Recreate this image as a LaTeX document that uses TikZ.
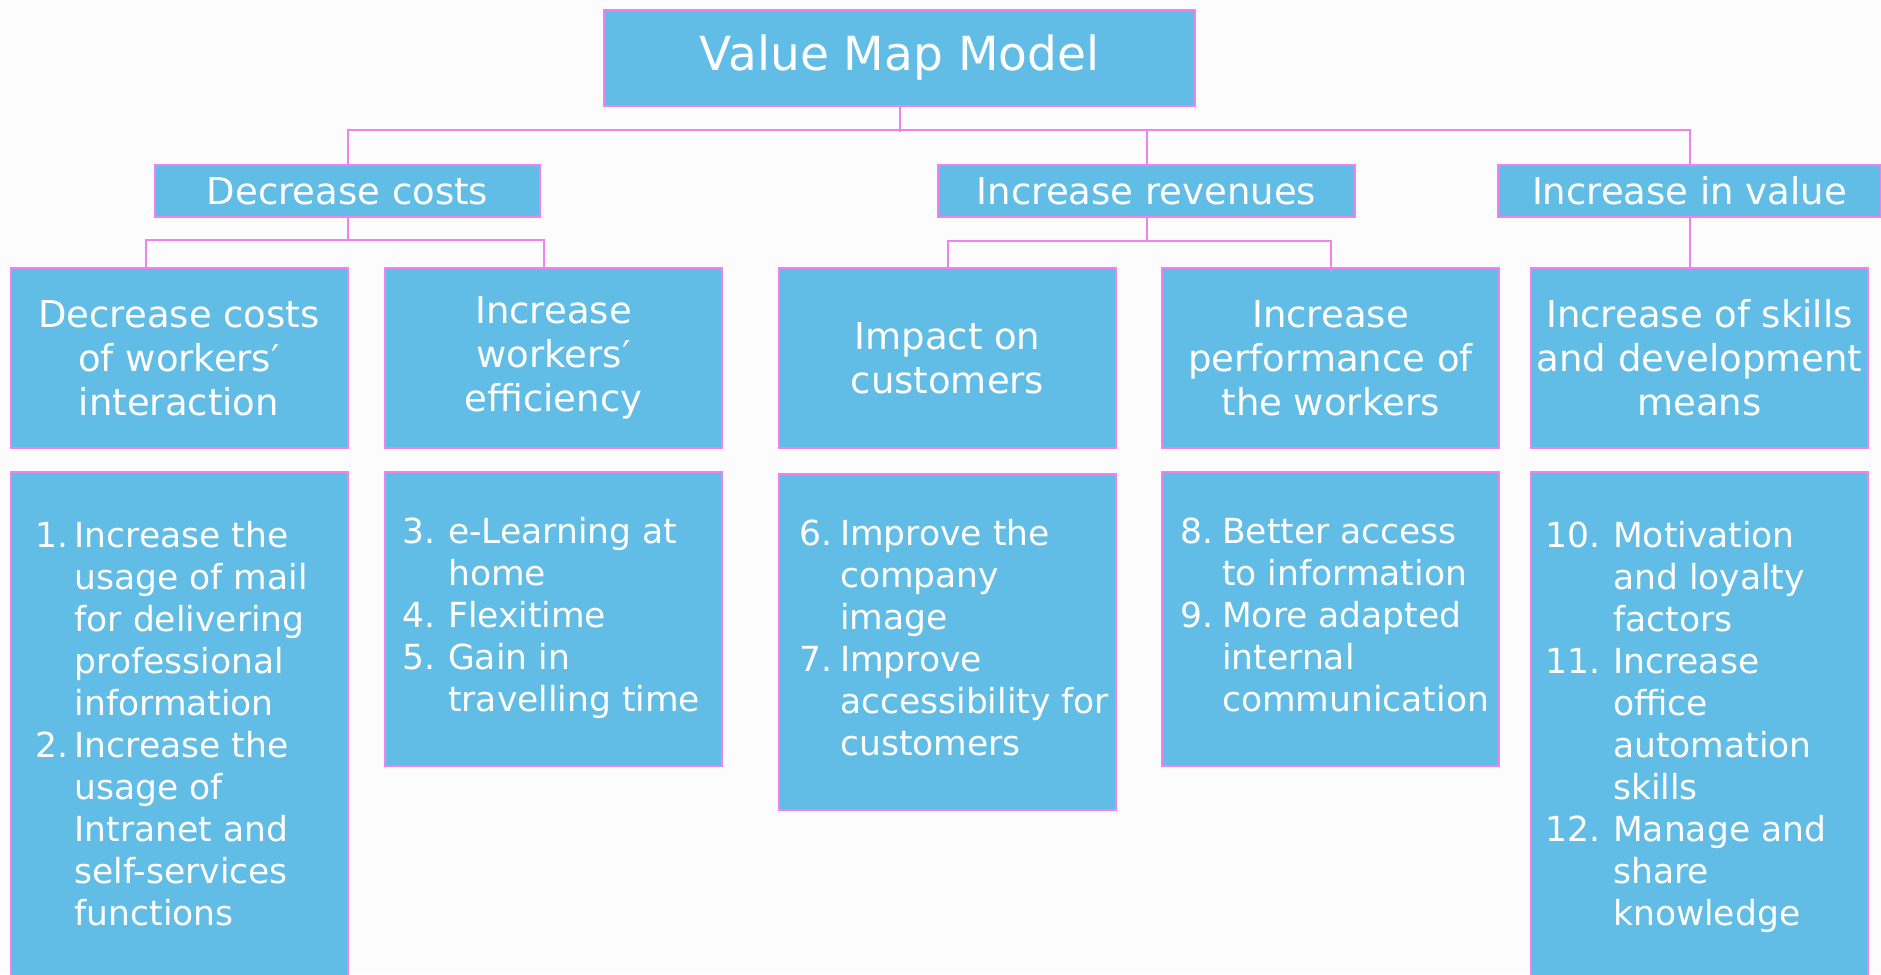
\documentclass[tikz,border=0pt]{standalone}
\usepackage{fontspec}
\setmainfont{DejaVu Sans}

\definecolor{boxblue}{RGB}{98,189,230}
\definecolor{linkpink}{RGB}{238,130,238}
\definecolor{paper}{RGB}{252,252,253}

% numbered list: number column of width #1, then the lines
\newcommand{\vmlist}[2]{\begin{tabular}{@{}p{#1}@{}l@{}}#2\end{tabular}}

\tikzset{
  vmbox/.style={draw=linkpink, line width=2pt, fill=boxblue, text=white, inner sep=0pt},
  vmtitle/.style={vmbox, font=\fontsize{47}{56}\selectfont},
  headbox/.style={vmbox, align=center, font=\fontsize{37}{44}\selectfont},
  listtext/.style={text=white, inner sep=0pt, anchor=west, font=\fontsize{34.5}{42}\selectfont},
  link/.style={draw=linkpink, line width=2pt}
}

\begin{document}
\begin{tikzpicture}[x=1pt, y=-1pt]
  \clip (0,0) rectangle (1881,974);
  \fill[paper] (0,0) rectangle (1881,974);

  % --- top box ---
  \node[vmtitle, minimum width=591pt, minimum height=96pt] (model) at (899.5,58) {Value Map Model};

  % --- first level ---
  \foreach \name/\x/\w/\txt in {costs/347.5/385/Decrease costs,
                                revenues/1146.5/417/Increase revenues,
                                value/1689.5/383/Increase in value} {
    \node[headbox, minimum width=\w pt, minimum height=52pt] (\name) at (\x,191) {\txt};
  }

  % --- second level ---
  \foreach \name/\x/\txt in {work/179/{Decrease costs\\of workers′\\interaction},
                             efficiency/553.5/{Increase\\workers′\\efficiency},
                             customers/947.5/{Impact on\\customers},
                             performance/1330.5/{Increase\\performance of\\the workers},
                             skills/1699.5/{Increase of skills\\and development\\means}} {
    \node[headbox, minimum width=337pt, minimum height=180pt] (\name) at (\x,358) {\txt};
  }

  % --- lists ---
  \foreach \name/\x/\y/\h in {lwork/179/728/512, lefficiency/553.5/619/294,
                              lcustomers/947.5/642/336, lperformance/1330.5/619/294,
                              lskills/1699.5/728/512} {
    \node[vmbox, minimum width=337pt, minimum height=\h pt] (\name) at (\x,\y) {};
  }

  \node[listtext] (twork) at ([xshift=26pt]lwork.west) {\vmlist{39pt}{%
    1. & Increase the\\
       & usage of mail\\
       & for delivering\\
       & professional\\
       & information\\
    2. & Increase the\\
       & usage of\\
       & Intranet and\\
       & self-services\\
       & functions}};
  \node[listtext] (tefficiency) at ([xshift=18pt]lefficiency.west) {\vmlist{46pt}{%
    3. & e-Learning at\\
       & home\\
    4. & Flexitime\\
    5. & Gain in\\
       & travelling time}};
  \node[listtext] (tcustomers) at ([xshift=21pt]lcustomers.west) {\vmlist{41pt}{%
    6. & Improve the\\
       & company\\
       & image\\
    7. & Improve\\
       & accessibility for\\
       & customers}};
  \node[listtext] (tperformance) at ([xshift=19pt]lperformance.west) {\vmlist{42pt}{%
    8. & Better access\\
       & to information\\
    9. & More adapted\\
       & internal\\
       & communication}};
  \node[listtext] (tskills) at ([xshift=15pt]lskills.west) {\vmlist{68pt}{%
    10. & Motivation\\
        & and loyalty\\
        & factors\\
    11. & Increase\\
        & office\\
        & automation\\
        & skills\\
    12. & Manage and\\
        & share\\
        & knowledge}};

  % --- connectors ---
  \draw[link] (model.south) -- ++(0,25);
  \draw[link] (costs.north) -- ++(0,-34) -| (value.north);
  \draw[link] (revenues.north) -- ++(0,-34);

  \draw[link] (costs.south) -- ++(0,22) coordinate (costsbus);
  \draw[link] ([xshift=-33pt]work.north) |- (costsbus) -| ([xshift=-10pt]efficiency.north);

  \draw[link] (revenues.south) -- ++(0,23) coordinate (revbus);
  \draw[link] (customers.north) |- (revbus) -| ([yshift=-5pt]performance.north);

  \draw[link] (value.south) -- (value.south |- skills.north);
\end{tikzpicture}
\end{document}
